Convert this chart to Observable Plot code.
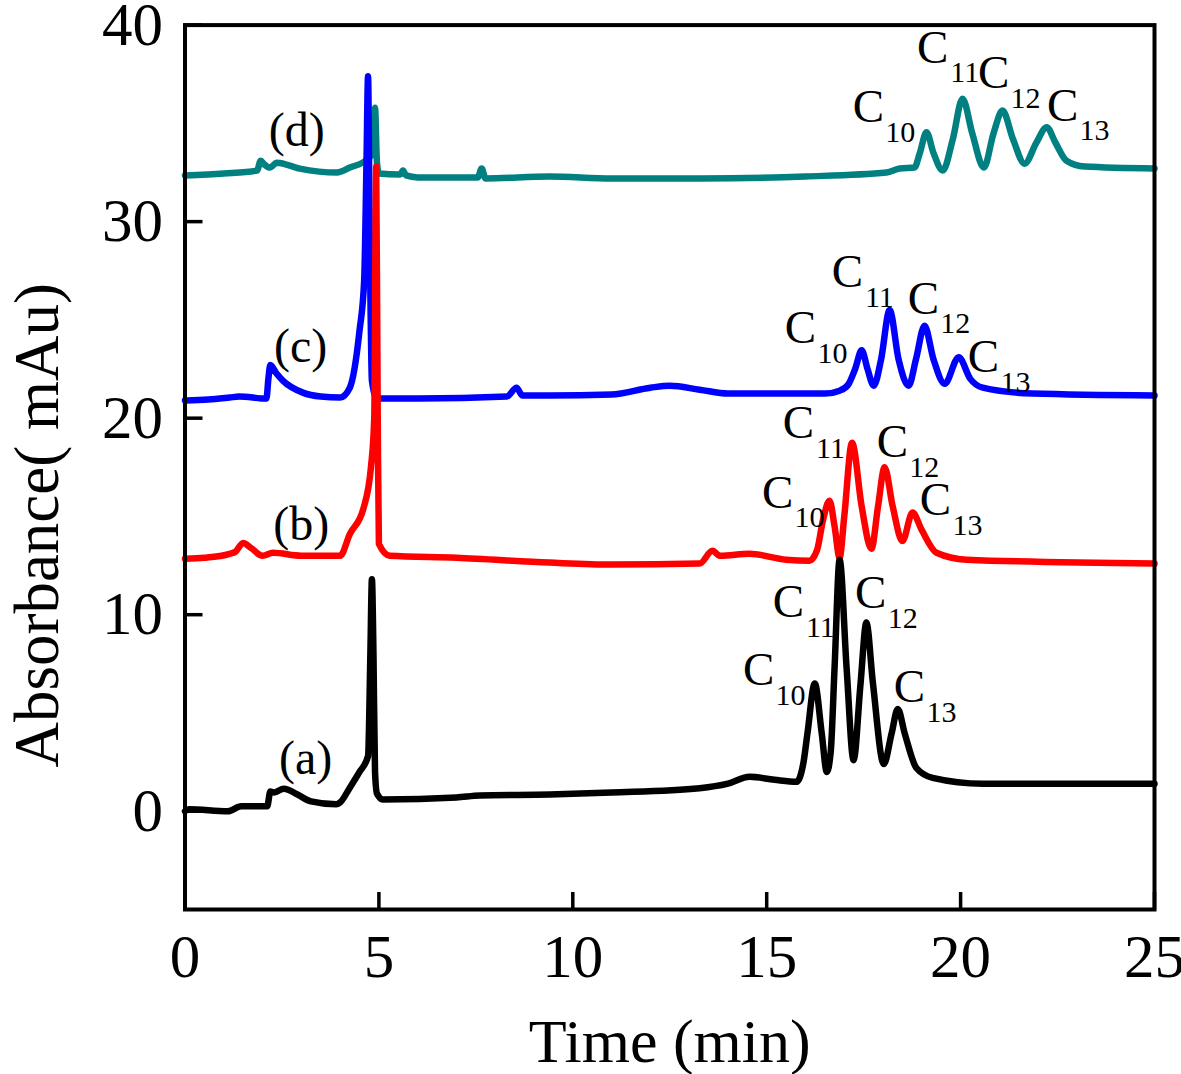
<!DOCTYPE html>
<html>
<head>
<meta charset="utf-8">
<script src="https://cdn.jsdelivr.net/npm/d3@7"></script>
<script src="https://cdn.jsdelivr.net/npm/@observablehq/plot@0.6"></script>
<style>
  html, body { margin: 0; padding: 0; background: #fff; }
  #chart svg { display: block; }
</style>
</head>
<body>
<div id="chart"></div>
<script>
// ---- data (time in min, absorbance in mAu) ----
const xTicks = [0, 5, 10, 15, 20, 25];
const yTicks = [0, 10, 20, 30, 40];

const traceA = [[0,0.0],[0.1,0.1],[1.1,0.0],[1.45,0.25],[2.12,0.25],[2.2,1.0],[2.3,0.95],[2.55,1.15],[2.9,0.85],[3.25,0.5],[3.9,0.35],[4.0,0.45],[4.25,1.2],[4.5,2.0],[4.72,2.8],[4.78,8.0],[4.82,11.8],[4.86,8.0],[4.9,2.0],[4.95,0.9],[5.1,0.6],[7.0,0.7],[7.6,0.8],[9.4,0.85],[11.0,0.95],[13.27,1.17],[14.0,1.4],[14.56,1.75],[15.2,1.6],[15.77,1.5],[15.95,2.5],[16.05,3.95],[16.24,6.5],[16.42,3.95],[16.55,2.0],[16.65,3.0],[16.75,7.3],[16.88,12.8],[17.06,7.3],[17.24,2.6],[17.42,6.5],[17.57,9.6],[17.74,6.5],[18.02,2.4],[18.22,3.95],[18.38,5.2],[18.56,3.95],[18.86,2.2],[19.28,1.7],[20.57,1.4],[25.0,1.4]];

const traceB = [[0,12.85],[0.5,12.9],[1.15,13.1],[1.3,13.2],[1.5,13.65],[1.7,13.4],[2.0,13.0],[2.27,13.15],[3.0,13.0],[4.0,13.0],[4.25,14.1],[4.6,15.4],[4.8,17.6],[4.88,20.0],[4.93,32.8],[4.97,20.0],[5.0,13.6],[5.28,13.0],[7.0,12.9],[9.4,12.65],[11.0,12.55],[13.27,12.6],[13.6,13.25],[13.8,13.0],[14.56,13.1],[15.5,12.8],[16.1,12.75],[16.3,13.3],[16.45,14.8],[16.62,15.8],[16.75,14.5],[16.88,12.9],[17.0,15.0],[17.2,18.75],[17.45,15.5],[17.7,13.35],[17.87,15.5],[18.04,17.5],[18.25,15.5],[18.5,13.75],[18.76,15.2],[19.0,14.3],[19.38,13.15],[20.15,12.8],[25.0,12.6]];

const traceC = [[0,20.9],[0.6,20.95],[1.15,21.05],[1.4,21.1],[2.1,21.0],[2.15,22.0],[2.2,22.7],[2.35,22.3],[2.53,21.9],[3.04,21.3],[3.5,21.1],[4.0,21.05],[4.25,21.55],[4.5,24.45],[4.62,27.0],[4.68,33.0],[4.72,37.4],[4.76,30.0],[4.82,21.9],[4.95,21.0],[6.0,21.0],[8.3,21.1],[8.55,21.55],[8.7,21.15],[9.4,21.15],[11.0,21.2],[12.0,21.55],[12.5,21.65],[13.27,21.45],[14.0,21.25],[16.5,21.25],[16.88,21.4],[17.1,21.7],[17.28,22.5],[17.45,23.45],[17.6,22.5],[17.76,21.65],[17.95,23.0],[18.17,25.5],[18.4,23.0],[18.66,21.65],[18.85,23.0],[19.07,24.7],[19.3,23.0],[19.59,21.75],[19.95,23.1],[20.25,22.0],[20.57,21.55],[21.86,21.25],[25.0,21.15]];

const traceD = [[0,32.35],[1.0,32.45],[1.86,32.6],[1.95,33.1],[2.05,32.9],[2.19,32.75],[2.37,33.0],[2.96,32.7],[3.92,32.5],[4.25,32.75],[4.72,33.2],[4.85,33.5],[4.9,35.8],[4.95,33.0],[5.0,32.45],[5.55,32.4],[5.62,32.6],[5.7,32.35],[6.0,32.25],[7.55,32.25],[7.65,32.7],[7.75,32.2],[9.4,32.3],[11.0,32.2],[13.27,32.2],[16.0,32.3],[18.09,32.5],[18.43,32.7],[18.81,32.75],[18.95,33.5],[19.12,34.55],[19.3,33.5],[19.54,32.6],[19.8,34.2],[20.05,36.25],[20.3,34.5],[20.6,32.75],[20.85,34.5],[21.08,35.65],[21.35,34.2],[21.65,32.95],[21.95,34.0],[22.22,34.8],[22.45,34.0],[22.73,33.1],[23.2,32.8],[25.0,32.7]];

const traceNames = ["(a)", "(b)", "(c)", "(d)"];
const traceLabelT = [3.11, 3.0, 2.98, 2.88];
const traceLabelV = [2.7, 14.57, 23.65, 34.64];

const peakSubs = ["10", "11", "12", "13"];
const peakLabelsA = [[14.79, 7.17], [15.56, 10.63], [17.68, 11.09], [18.68, 6.31]];
const peakLabelsB = [[15.28, 16.22], [15.82, 19.74], [18.24, 18.77], [19.35, 15.82]];
const peakLabelsC = [[15.87, 24.57], [17.08, 27.42], [19.04, 26.09], [20.59, 23.09]];
const peakLabelsD = [[17.62, 35.81], [19.28, 38.86], [20.85, 37.54], [22.63, 35.91]];

// ---- build tables ----
const traces = [traceA, traceB, traceC, traceD];
const colors = ["#000000", "#ff0000", "#0000ff", "#008080"];
const toRows = tr => tr.map(([t, v]) => ({t, v}));
const labelRows = traceNames.map((name, i) => ({name, t: traceLabelT[i], v: traceLabelV[i]}));
const peakRows = [peakLabelsA, peakLabelsB, peakLabelsC, peakLabelsD]
  .flatMap(arr => arr.map(([t, v], j) => ({t, v, sub: peakSubs[j]})));

const font = "Liberation Serif, Times New Roman, serif";

const lineMarks = [3, 2, 1, 0].map(i =>
  Plot.line(toRows(traces[i]), {
    x: "t", y: "v", stroke: colors[i], strokeWidth: 6.5,
    curve: "monotone-x", strokeLinejoin: "round", strokeLinecap: "round"
  })
);

const chart = Plot.plot({
  width: 1181,
  height: 1074,
  marginLeft: 184.5,
  marginRight: 27,
  marginTop: 24.6,
  marginBottom: 165,
  style: {fontFamily: font, background: "#fff", color: "#000"},
  x: {domain: [0, 25]},
  y: {domain: [-5, 40]},
  marks: [
    ...lineMarks,
    Plot.frame({stroke: "#000", strokeWidth: 4}),
    Plot.axisX({ticks: xTicks, tickSize: -17, tickPadding: 41, fontSize: 61, strokeWidth: 3.5, label: null, tickFormat: d => String(d)}),
    Plot.axisY({ticks: yTicks, tickSize: -18, tickPadding: 40, fontSize: 61, strokeWidth: 3.5, label: null, tickFormat: d => String(d)}),
    Plot.text(labelRows, {x: "t", y: "v", text: "name", fontSize: 48, fontFamily: font, fill: "#000"}),
    Plot.text(peakRows, {x: "t", y: "v", text: () => "C", fontSize: 47, fontFamily: font, fill: "#000"}),
    Plot.text(peakRows, {x: "t", y: "v", text: "sub", fontSize: 30, dx: 32, dy: 25, fontFamily: font, fill: "#000"}),
    Plot.text(["Time (min)"], {frameAnchor: "bottom", textAnchor: "middle", lineAnchor: "middle", dy: 133, fontSize: 62, fontFamily: font, fill: "#000"}),
    Plot.text(["Absorbance( mAu)"], {frameAnchor: "left", textAnchor: "middle", lineAnchor: "middle", rotate: -90, dx: -147.5, dy: 58, fontSize: 63, fontFamily: font, fill: "#000"})
  ]
});

document.getElementById("chart").appendChild(chart);
</script>
</body>
</html>
